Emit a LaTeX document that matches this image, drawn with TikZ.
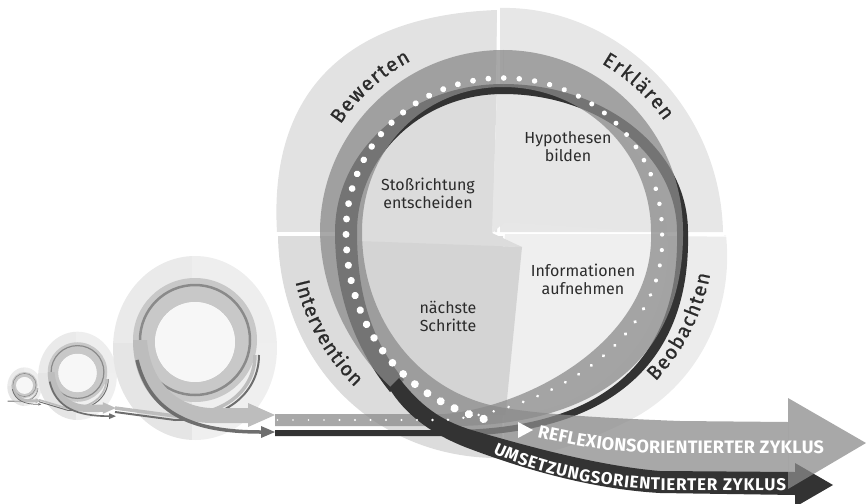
\documentclass[tikz,border=0pt]{standalone}
\usepackage{fontspec}
\setmainfont{Fira Sans}
\newfontfamily\phasefont{Fira Sans}[FakeBold=0.9]
\usetikzlibrary{decorations.text}
\usetikzlibrary{decorations.markings}
\definecolor{bewertenbg}{HTML}{E2E2E2}
\definecolor{erklaerenbg}{HTML}{E7E7E7}
\definecolor{beobachtenbg}{HTML}{ECECEC}
\definecolor{interventionbg}{HTML}{DCDCDC}
\definecolor{stossbg}{HTML}{DCDCDC}
\definecolor{hypobg}{HTML}{E6E6E6}
\definecolor{infobg}{HTML}{EFEFEF}
\definecolor{schrittebg}{HTML}{D4D4D4}
\definecolor{reflexgray}{HTML}{8B8B8B}
\definecolor{umsetzdark}{HTML}{333333}
\definecolor{labelgray}{HTML}{2B2B2B}
\definecolor{minitl}{HTML}{EAEAEA}
\definecolor{minitr}{HTML}{EEEEEE}
\definecolor{minibl}{HTML}{E5E5E5}
\definecolor{minibr}{HTML}{EFEFEF}
\definecolor{miniring}{HTML}{C8C8C8}
\definecolor{minicore}{HTML}{F7F7F7}
\definecolor{minidark}{HTML}{8A8A8A}
\definecolor{miniflow}{HTML}{BDBDBD}
\definecolor{ministrand}{HTML}{6E6E6E}

% small faded copy of the cycle: x, y, scale, height of incoming strand
\newcommand{\minicycle}[4]{%
  \begin{scope}[shift={(#1,#2)},scale=#3]
    \begin{scope}
      \clip (0,8) ellipse [x radius=82,y radius=92];
      \fill[minitl] (-90,-90) rectangle (-3,3);
      \fill[minitr] (-3,-90) rectangle (90,3);
      \fill[minibl] (-90,3) rectangle (-3,110);
      \fill[minibr] (-3,3) rectangle (90,110);
    \end{scope}
    \fill[miniring,even odd rule] (0,0) circle (62) (0,2) circle (40);
    \fill[minicore] (0,2) circle (40);
    \draw[minidark,line width=#3*2.5pt] (0,0) circle (55);
    \draw[miniflow,line width=#3*3.5pt] (-80,#4) -- (-20,76) .. controls (30,76) and (60,50) .. (60,15);
    \draw[ministrand,line width=#3*2pt] (-80,#4+4) -- (-20,80) .. controls (35,80) and (64,50) .. (64,15);
    \fill[miniflow] (-62,0) .. controls (-62,50) and (-30,82) .. (15,83) -- (53,83) -- (53,87)
      -- (80,75) -- (53,63) -- (53,68) -- (15,68) .. controls (-20,66) and (-45,40) .. (-48,0) -- cycle;
    \draw[ministrand,line width=#3*3.5pt] (-58,20) .. controls (-45,75) and (0,92) .. (66,92);
    \fill[ministrand] (66,86) -- (80,92) -- (66,98) -- cycle;
  \end{scope}}

\begin{document}
\begin{tikzpicture}[x=1pt,y=-1pt,
    reflexband/.style={fill=reflexgray,fill opacity=0.75},
    umsetzband/.style={fill=umsetzdark},
    divider/.style={draw=white,line width=1.4pt},
    task/.style={align=center,text=labelgray,inner sep=0pt,font=\fontsize{16}{18}\selectfont},
    phaselabel/.style={decorate,decoration={text along path,text align={fit to path},
        text={|\phasefont\fontsize{20}{20}\selectfont\color{labelgray}|#1}}}
]
\useasboundingbox (0,0) rectangle (866,503);

% earlier, smaller cycles
\minicycle{24.5}{385}{0.21}{75}
\minicycle{77.5}{372}{0.48}{58}
\minicycle{195}{340}{1}{68}

% phase areas
\fill[bewertenbg] (277,232) .. controls (268,80) and (360,15) .. (497,10) -- (497,232) -- cycle;
\fill[erklaerenbg] (500,8) .. controls (610,5) and (720,100) .. (723,232) -- (500,232) -- cycle;
\fill[beobachtenbg] (505,235) -- (726,235) .. controls (735,320) and (690,390) .. (630,420)
    .. controls (580,445) and (540,458) .. (503,458) -- cycle;
\fill[interventionbg] (278,236) .. controls (280,360) and (370,455) .. (493,458) -- (503,458) -- (503,236) -- cycle;
\draw[divider] (498,5) -- (494,232);
\draw[divider] (272,233) -- (494,233);
\draw[divider] (504,234) -- (730,236);
\draw[divider] (504,234) -- (503,462);

% inner steps
\begin{scope}
  \clip (503,250) circle (165);
  \fill[stossbg] (330,60) -- (498,60) -- (492,233) -- (330,233) -- cycle;
  \fill[hypobg] (498,60) -- (690,60) -- (690,234) -- (505,222) -- (492,233) -- cycle;
  \fill[infobg] (505,234) -- (690,234) -- (690,440) -- (503,440) -- cycle;
  \fill[interventionbg] (330,233) -- (492,233) -- (522,247) -- (330,240) -- cycle;
  \fill[schrittebg] (330,240) -- (522,247) -- (503,440) -- (330,440) -- cycle;
\end{scope}

% umsetzung strand, under the band
\fill[umsetzband] (275,430) -- (445,430) .. controls (606,431) and (680,358) .. (677,232)
    .. controls (677,156) and (600,94) .. (503,94)
    .. controls (422,94) and (357,156) .. (357,232)
    .. controls (357,300) and (375,345) .. (404,380) -- (390,392)
    .. controls (358,352) and (335,300) .. (335,232)
    .. controls (335,150) and (410,84) .. (503,84)
    .. controls (606,84) and (688,150) .. (688,232)
    .. controls (691,360) and (614,437) .. (445,436) -- (275,436) -- cycle;

% reflexion band
\fill[reflexband] (275,414) -- (445,414) .. controls (532,406) and (655,338) .. (651,232)
    .. controls (651,152) and (585,87) .. (503,87) -- (503,50)
    .. controls (601,50) and (683,131) .. (683,232)
    .. controls (684,355) and (600,428) .. (445,426) -- (275,426) -- cycle;
\fill[reflexband] (503,50) .. controls (402,50) and (320,133) .. (320,232)
    .. controls (322,320) and (380,400) .. (470,440)
    .. controls (560,478) and (680,478) .. (788,478) -- (788,422) -- (680,421)
    .. controls (600,418) and (540,414) .. (505,408)
    .. controls (420,395) and (362,320) .. (362,232)
    .. controls (362,150) and (423,87) .. (503,87) -- cycle;

% umsetzung strand, on top, with its arrow
\fill[umsetzband] (399,378) .. controls (420,405) and (440,421) .. (475,431)
    .. controls (530,447) and (600,466) .. (660,471) -- (795,472) -- (795,463) -- (833,485)
    -- (795,507) -- (795,495) -- (660,493)
    .. controls (590,489) and (520,468) .. (465,447)
    .. controls (430,433) and (405,414) .. (389,388) -- cycle;
\fill[reflexband] (788,398) -- (866,443) -- (788,489) -- cycle;

% dotted reflexion line
\path[decorate,decoration={markings,
    mark=between positions 0.002 and 0.99 step 15.5pt with {%
      \pgfmathsetmacro\dotrad{0.8+3.4*(\pgfkeysvalueof{/pgf/decoration/mark info/sequence number}*15.5/\pgfdecoratedpathlength)}%
      \fill[white] (0,0) circle (\dotrad pt);}}]
  (275,420) -- (445,420) .. controls (540,412) and (668,345) .. (662,232)
  .. controls (662,145) and (590,78) .. (503,78)
  .. controls (416,78) and (346,145) .. (346,232)
  .. controls (346,330) and (405,405) .. (505,424);
\fill[white] (518,422) -- (533,430) -- (518,438) -- cycle;

% phase names
\path[phaselabel=Bewerten] (340.5,124.4) .. controls (358.5,97.8) and (382.7,76.0) .. (411.0,60.9);
\path[phaselabel=Erklären] (601.5,63.4) .. controls (626.4,77.8) and (647.9,97.4) .. (664.4,121.0);
\path[phaselabel=Intervention] (295.5,281.9) .. controls (304.8,322.0) and (325.4,358.6) .. (355.0,387.2);
\path[phaselabel=Beobachten] (655.5,381.3) .. controls (683.7,352.1) and (702.8,313.5) .. (710.1,274.3);

% steps
\node[task] (stoss) at (428,193) {Stoßrichtung\\entscheiden};
\node[task] (hypo) at (568,147) {Hypothesen\\bilden};
\node[task] (info) at (583,279) {Informationen\\aufnehmen};
\node[task] (schritte) at (448,316) {nächste\\Schritte};

% cycle names
\path[decorate,decoration={text along path,text align={fit to path},
    text={|\fontsize{18}{18}\selectfont\bfseries\color{white}|REFLEXIONSORIENTIERTER ZYKLUS}}]
  (537,437) .. controls (580,447) and (610,452) .. (650,453) -- (824,453);
\path[decorate,decoration={text along path,text align={fit to path},
    text={|\fontsize{17}{17}\selectfont\bfseries\color{white}|UMSETZUNGSORIENTIERTER ZYKLUS}}]
  (493,453) .. controls (530,471) and (590,486) .. (655,490) -- (786,491);
\end{tikzpicture}
\end{document}
